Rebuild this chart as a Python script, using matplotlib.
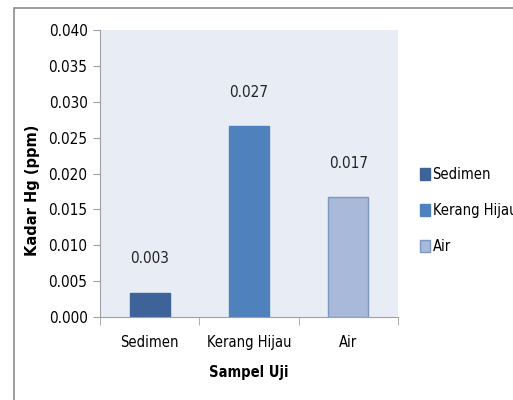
import matplotlib
matplotlib.use("Agg")
import matplotlib.pyplot as plt
from matplotlib.patches import Rectangle
import numpy as np

categories = ["Sedimen", "Kerang Hijau", "Air"]
values = [0.0034, 0.0266, 0.0167]
labels = ["0.003", "0.027", "0.017"]
colors = ["#3D6399", "#4F81BD", "#A9B9D9"]
edges = ["#3D6399", "#4F81BD", "#7E97C2"]

plt.rcParams["font.family"] = ["DejaVu Sans"]
plt.rcParams["font.stretch"] = "condensed"

fig = plt.figure(figsize=(5.13, 4.0), dpi=100)
# outer chart border
fig.patches.append(Rectangle((14/513, -0.1), 1.1, (400-8)/400 + 0.1, transform=fig.transFigure,
                             fill=False, edgecolor="#8C8C8C", linewidth=1.2))

ax = fig.add_axes([100/513, 1-317/400, 298/513, 287/400])
ax.set_facecolor("#E8ECF4")

x = np.arange(len(categories))
ax.bar(x, values, width=0.4, color=colors, edgecolor=edges, linewidth=1)
for xi, v, t in zip(x, values, labels):
    ax.text(xi, v + 0.0047, t, ha="center", va="center", fontsize=11, color="#222222")

ax.set_xlim(-0.5, 2.5)
ax.set_ylim(0, 0.040)
yt = np.arange(0, 0.0401, 0.005)
ax.set_yticks(yt)
ax.set_yticklabels(["%.3f" % v for v in yt], fontsize=11)
ax.set_xticks(x)
ax.set_xticklabels(categories, fontsize=10.5)
ax.tick_params(axis="x", length=0, pad=13)
ax.set_xticks([-0.5, 0.5, 1.5, 2.5], minor=True)
ax.tick_params(axis="x", which="minor", length=6, color="#A0A0A0", direction="out")
ax.tick_params(axis="y", length=5, color="#A0A0A0", pad=4)

for s in ["top", "right"]:
    ax.spines[s].set_visible(False)
ax.spines["left"].set_color("#A0A0A0")
ax.spines["bottom"].set_color("#A0A0A0")

ax.set_ylabel("Kadar Hg (ppm)", fontsize=10.5, fontweight="bold", fontstretch="normal")
ax.yaxis.set_label_coords(-0.201, 0.442)
ax.set_xlabel("Sampel Uji", fontsize=10.5, fontweight="bold")
ax.xaxis.set_label_coords(0.5, -(365 - 317) / 287)

handles = [Rectangle((0, 0), 1, 1, facecolor=c, edgecolor=e) for c, e in zip(colors, edges)]
fig.legend(handles, categories, loc="upper left", bbox_to_anchor=(407/513, 1-154/400),
           frameon=False, fontsize=10.5, handlelength=0.7, handleheight=0.9,
           handletextpad=0.15, labelspacing=1.45)

fig.savefig("out.png", dpi=100)
